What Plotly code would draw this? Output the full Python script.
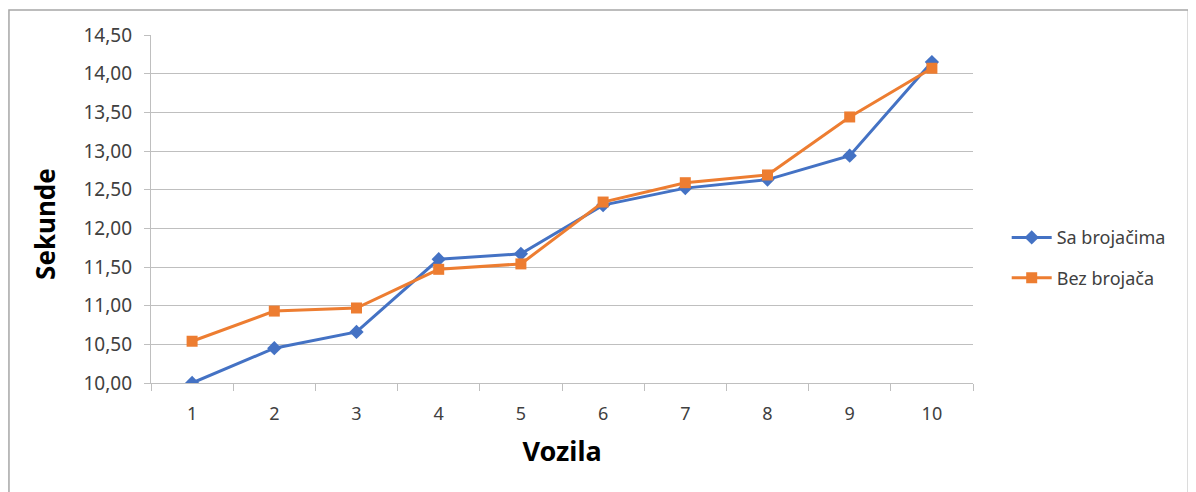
import plotly.graph_objects as go

vozila = [1, 2, 3, 4, 5, 6, 7, 8, 9, 10]
sa_brojacima = [10.00, 10.45, 10.66, 11.60, 11.67, 12.30, 12.52, 12.63, 12.94, 14.15]
bez_brojaca = [10.54, 10.93, 10.97, 11.47, 11.54, 12.34, 12.59, 12.69, 13.44, 14.07]
y_ticks = [10.0, 10.5, 11.0, 11.5, 12.0, 12.5, 13.0, 13.5, 14.0, 14.5]

fig = go.Figure()
fig.add_trace(go.Scatter(
    x=vozila, y=sa_brojacima, name="Sa brojačima", mode="lines+markers",
    line=dict(color="#4472C4", width=3),
    marker=dict(symbol="diamond", size=11, color="#4472C4"),
    legendgroup="a",
))
fig.add_trace(go.Scatter(
    x=vozila, y=bez_brojaca, name="Bez brojača", mode="lines+markers",
    line=dict(color="#ED7D31", width=3),
    marker=dict(symbol="square", size=11, color="#ED7D31"),
    legendgroup="b",
))

# page body has an 8px margin, so the figure is shifted by 8px
fig.update_layout(
    width=1196, height=492,
    margin=dict(l=143, r=231, t=27, b=117),
    paper_bgcolor="white", plot_bgcolor="white",
    separators=",.",
    font=dict(family="Noto Sans, Open Sans, sans-serif", color="#595959", size=16),
    xaxis=dict(
        range=[0.5, 10.5], tickvals=vozila, showgrid=False,
        showline=True, linecolor="#bfbfbf", linewidth=1.3,
        ticks="", zeroline=False, ticklabelstandoff=14,
        minor=dict(tickvals=[i + 0.5 for i in range(0, 11)], ticks="outside",
                   ticklen=7, tickcolor="#bfbfbf", showgrid=False),
        tickfont=dict(size=18, color="#404040"),
        title=dict(text="<b>Vozila</b>", font=dict(size=27, color="#000000"), standoff=18),
    ),
    yaxis=dict(
        range=[10.0, 14.5], tickvals=y_ticks, tickformat=".2f",
        showgrid=True, gridcolor="#bfbfbf", gridwidth=1.3,
        showline=True, linecolor="#bfbfbf", linewidth=1.3,
        ticks="outside", ticklen=6, tickcolor="#bfbfbf",
        zeroline=False, ticklabelstandoff=8,
        tickfont=dict(size=19, color="#404040"),
    ),
    legend=dict(
        x=1.041, y=0.36, xanchor="left", yanchor="middle",
        font=dict(size=18, color="#404040"),
        traceorder="grouped", tracegroupgap=14,
        itemwidth=40,
    ),
    annotations=[dict(
        text="<b>Sekunde</b>", textangle=-90, showarrow=False,
        xref="paper", yref="paper", x=-0.129, y=0.457,
        xanchor="center", yanchor="middle",
        font=dict(size=26, color="#000000"),
    )],
    shapes=[dict(
        type="rect", xref="paper", yref="paper",
        x0=-0.1728, x1=1.262, y0=-0.33, y1=1.0718,
        line=dict(color="#a6a6a6", width=1.5), fillcolor="rgba(0,0,0,0)",
        layer="below",
    )],
)

fig.write_html("out.html")
